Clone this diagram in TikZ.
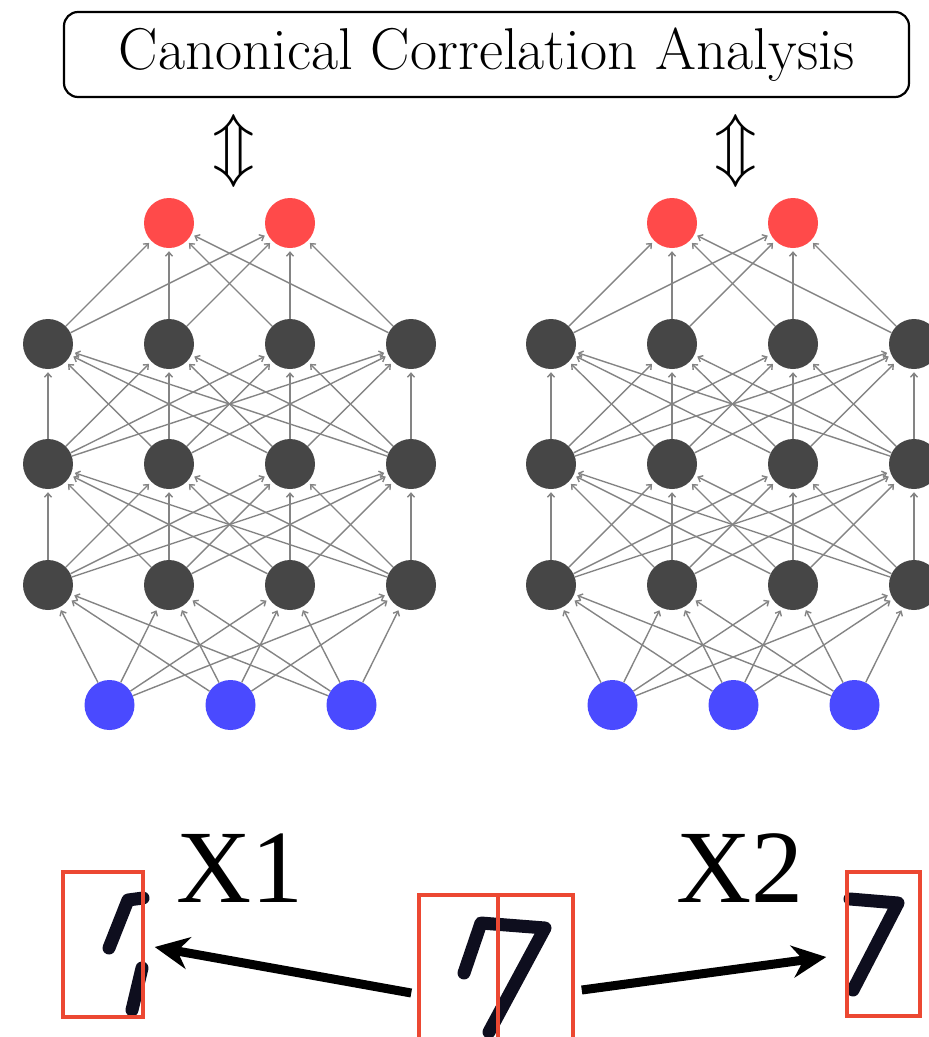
\RequirePackage{fix-cm}
\documentclass[tikz,border=0pt]{standalone}
\usepackage{fontspec}
\newfontfamily\timesfont{Liberation Serif}
\usetikzlibrary{arrows.meta}
\definecolor{outred}{RGB}{255,74,74}
\definecolor{hidgray}{RGB}{70,70,70}
\definecolor{inblue}{RGB}{74,74,255}
\definecolor{boxred}{RGB}{236,72,50}
\definecolor{wirecol}{RGB}{132,132,132}
\definecolor{ink}{RGB}{14,14,30}
\begin{document}
\begin{tikzpicture}[x=1pt,y=-1pt, neuron/.style={circle,inner sep=0pt,minimum size=50pt}, outn/.style={neuron,fill=outred}, hidn/.style={neuron,fill=hidgray}, inn/.style={neuron,fill=inblue}, wire/.style={draw=wirecol,line width=1.4pt,-{Straight Barb[length=4pt,width=7pt]},shorten >=3pt}, crop/.style={draw=boxred,line width=3.5pt,inner sep=0pt}, digit/.style={draw=ink,line width=13pt,line cap=round,line join=round}, bigarr/.style={line width=9pt,-{Stealth[length=34pt,width=32pt]}}]
\useasboundingbox (0,0) rectangle (929,1037);
\node[draw,rounded corners=14pt,line width=2.2pt,minimum width=845pt,minimum height=85pt,font=\fontsize{59}{64}\selectfont] (cca) at (486.5,54.5) {Canonical Correlation Analysis};
\node[inner sep=0pt,font=\fontsize{70}{70}\selectfont] (Lcca) at (234,151) {$\Updownarrow$};
\node[inner sep=0pt,font=\fontsize{70}{70}\selectfont] (Rcca) at (736,151) {$\Updownarrow$};
% two networks, one per view
\foreach \net/\dx in {L/0,R/503} {
  \foreach \i in {1,2,3} \node[inn] (\net-in\i) at ({\dx+109.5+121*(\i-1)},705) {};
  \foreach \i in {1,...,4} {
    \node[hidn] (\net-ha\i) at ({\dx+48+121*(\i-1)},585) {};
    \node[hidn] (\net-hb\i) at ({\dx+48+121*(\i-1)},464) {};
    \node[hidn] (\net-hc\i) at ({\dx+48+121*(\i-1)},344) {};
  }
  \foreach \i in {1,2} \node[outn] (\net-out\i) at ({\dx+48+121*\i},223) {};
  \foreach \i in {1,2,3} \foreach \j in {1,...,4} \draw[wire] (\net-in\i) -- (\net-ha\j);
  \foreach \i in {1,...,4} \foreach \j in {1,...,4} {
    \draw[wire] (\net-ha\i) -- (\net-hb\j);
    \draw[wire] (\net-hb\i) -- (\net-hc\j);
  }
  \foreach \i in {1,...,4} \foreach \j in {1,2} \draw[wire] (\net-hc\i) -- (\net-out\j);
}
% digit halves
\draw[digit] (143,898) -- (128,900) -- (109,948);
\draw[digit] (142,968) -- (132,1010);
\draw[digit] (464,973) -- (481,923) -- (545,928) -- (489,1032);
\draw[digit] (850,899) -- (898,903) -- (853,990);
\node[crop,minimum width=80pt,minimum height=145pt] (lft) at (103,944.5) {};
\node[crop,minimum width=154pt,minimum height=160pt] (mid) at (496,975) {};
\node[crop,minimum width=73pt,minimum height=144pt] (rgt) at (883.5,944) {};
\draw[boxred,line width=3.5pt] ([xshift=2pt]mid.north) -- ([xshift=2pt]mid.south);
\node[anchor=base west,inner sep=0pt,font=\timesfont\fontsize{104}{110}\selectfont] (xa) at (176,902) {X1};
\node[anchor=base west,inner sep=0pt,font=\timesfont\fontsize{104}{110}\selectfont] (xb) at (676,902) {X2};
\draw[bigarr] ([xshift=-6pt,yshift=-18pt]mid.west) -- ([xshift=10pt,yshift=-2.5pt]lft.east);
\draw[bigarr] ([xshift=7pt,yshift=-15pt]mid.east) -- ([xshift=-19pt,yshift=-13pt]rgt.west);
\end{tikzpicture}
\end{document}
